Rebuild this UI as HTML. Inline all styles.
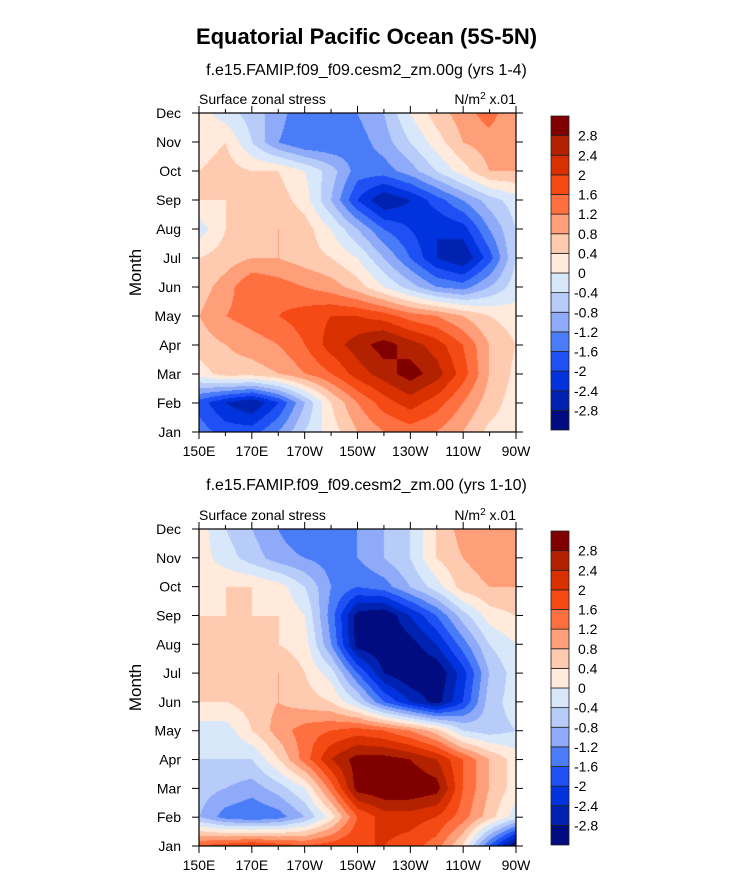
<!DOCTYPE html>
<html><head><meta charset="utf-8">
<style>
body{margin:0;background:#fff;width:733px;height:882px;position:relative;overflow:hidden;font-family:"Liberation Sans",Arial,sans-serif;color:#000}
.t{position:absolute;white-space:nowrap}
canvas{position:absolute}
svg{position:absolute;left:0;top:0}
</style></head><body>
<div class="t" style="left:0;width:733px;text-align:center;top:24px;font-size:22px;font-weight:bold">Equatorial Pacific Ocean (5S-5N)</div>
<div class="t" style="left:0;width:733px;text-align:center;top:62px;font-size:16px">f.e15.FAMIP.f09_f09.cesm2_zm.00g (yrs 1-4)</div>
<div class="t" style="left:0;width:733px;text-align:center;top:477px;font-size:16px">f.e15.FAMIP.f09_f09.cesm2_zm.00 (yrs 1-10)</div>
<canvas id="c1" width="317" height="319" style="left:199px;top:113px"></canvas>
<canvas id="c2" width="317" height="317" style="left:199px;top:529px"></canvas>
<svg id="ov" width="733" height="882"></svg>
<script>
const months=["Jan","Feb","Mar","Apr","May","Jun","Jul","Aug","Sep","Oct","Nov","Dec"];
const lonTicks=["150E","170E","170W","150W","130W","110W","90W"];
const levels=[-2.8,-2.4,-2,-1.6,-1.2,-0.8,-0.4,0,0.4,0.8,1.2,1.6,2,2.4,2.8];
const levelLabels=["-2.8","-2.4","-2","-1.6","-1.2","-0.8","-0.4","0","0.4","0.8","1.2","1.6","2","2.4","2.8"];
const colors=["#000c80","#0022b0","#0033dd","#1e50f5","#4a7cf8","#8eaaf8","#b8ccfa","#d8e8fa","#ffeadc","#ffcbb0","#ff9f7a","#ff7040","#f54a14","#d93000","#b22200","#800000"];
// rows Jan..Dec, columns 150E..90W every 10 deg
const panel1Values=[
[-1.4,-1.8,-1.8,-1.2,-0.4,0.2,0.8,1.2,1.4,1.2,0.8,0.3,0.2],
[-1.8,-2.4,-2.8,-2.0,-0.8,0.4,1.2,1.8,2.2,1.8,1.2,0.6,0.2],
[0.2,0.6,0.6,0.8,1.2,1.6,2.2,2.6,3.0,2.6,1.8,0.8,0.3],
[0.6,0.8,1.0,1.2,1.6,2.2,2.6,3.0,2.6,2.2,1.6,0.8,0.4],
[0.8,1.2,1.4,1.6,1.8,2.0,2.0,1.8,1.4,1.2,0.8,0.4,0.2],
[0.6,1.0,1.6,1.4,1.2,1.0,0.6,0.0,-0.6,-1.2,-1.4,-0.8,-0.2],
[0.4,0.6,0.8,0.8,0.6,0.4,0.0,-0.8,-1.6,-2.4,-2.8,-1.8,-0.4],
[-0.2,0.4,0.6,0.8,0.6,0.0,-0.8,-1.6,-2.0,-2.4,-2.2,-1.2,-0.4],
[0.4,0.4,0.4,0.6,0.2,-0.8,-2.0,-2.8,-2.4,-1.8,-1.2,-0.6,-0.2],
[0.4,0.6,0.4,0.4,0.0,-0.6,-1.4,-1.4,-1.0,-0.4,0.2,0.8,0.8],
[0.2,0.4,-0.4,-1.2,-1.6,-1.6,-1.4,-1.0,-0.4,0.2,0.8,1.0,0.8],
[0.2,-0.2,-0.6,-1.0,-1.6,-1.6,-1.2,-0.8,0.0,0.6,1.0,1.4,0.8]];
const panel2Values=[
[1.6,1.8,2.0,1.8,1.6,1.8,2.0,2.0,1.8,1.4,0.4,-1.6,-3.2],
[-0.8,-1.4,-1.6,-1.4,-0.8,0.2,1.6,2.2,2.2,2.0,1.4,0.6,-0.2],
[-0.6,-0.8,-1.0,-0.6,0.0,1.4,3.0,3.2,3.2,3.0,1.6,0.8,0.2],
[-0.4,-0.4,-0.4,0.4,1.4,2.4,3.0,3.0,2.8,2.4,1.6,0.8,0.2],
[-0.2,-0.2,0.4,1.0,1.4,1.6,1.8,1.6,1.2,0.6,-0.4,-0.6,-0.4],
[0.4,0.4,0.6,0.8,0.6,0.4,-0.4,-1.6,-2.4,-3.0,-2.0,-0.6,-0.2],
[0.4,0.4,0.6,0.8,0.4,-0.2,-1.6,-2.8,-3.2,-3.2,-2.2,-0.8,-0.2],
[0.4,0.4,0.4,0.4,0.2,-1.2,-3.0,-3.2,-3.0,-2.4,-1.4,-0.4,0.0],
[0.4,0.4,0.4,0.4,0.0,-1.4,-3.0,-3.2,-2.4,-1.6,-0.6,0.2,0.4],
[0.2,0.4,0.4,0.2,-0.4,-1.2,-1.6,-1.4,-0.8,-0.2,0.6,0.8,0.8],
[0.2,-0.2,-0.6,-1.0,-1.2,-1.4,-1.2,-0.8,-0.4,0.4,0.8,1.0,1.0],
[0.2,-0.4,-0.8,-1.2,-1.6,-1.6,-1.2,-0.8,-0.4,0.4,1.0,1.2,1.2]];

function colorFor(v){let i=0;while(i<levels.length&&v>=levels[i])i++;return colors[i];}
function hex(c){return [parseInt(c.slice(1,3),16),parseInt(c.slice(3,5),16),parseInt(c.slice(5,7),16)];}
function drawField(id,data){
  const cv=document.getElementById(id),ctx=cv.getContext('2d'),W=cv.width,H=cv.height;
  const img=ctx.createImageData(W,H),nr=data.length,nc=data[0].length;
  const rgb=colors.map(hex);
  for(let py=0;py<H;py++){
    const fy=(H-1-py)/(H-1)*(nr-1),r0=Math.min(Math.floor(fy),nr-2),ty=fy-r0;
    for(let px=0;px<W;px++){
      const fx=px/(W-1)*(nc-1),c0=Math.min(Math.floor(fx),nc-2),tx=fx-c0;
      const v=(data[r0][c0]*(1-tx)+data[r0][c0+1]*tx)*(1-ty)+(data[r0+1][c0]*(1-tx)+data[r0+1][c0+1]*tx)*ty;
      let i=0;while(i<levels.length&&v>=levels[i])i++;
      const k=(py*W+px)*4,c=rgb[i];img.data[k]=c[0];img.data[k+1]=c[1];img.data[k+2]=c[2];img.data[k+3]=255;
    }
  }
  ctx.putImageData(img,0,0);
}
drawField('c1',panel1Values);
drawField('c2',panel2Values);

const NS='http://www.w3.org/2000/svg',ov=document.getElementById('ov');
function mk(tag,attrs,txt){const e=document.createElementNS(NS,tag);for(const k in attrs)e.setAttribute(k,attrs[k]);if(txt!==undefined)e.textContent=txt;ov.appendChild(e);return e;}
function panel(top,bottom,cbTop,cbBot,p){
  const L=199,R=516;
  let e=mk('rect',{x:L,y:top,width:R-L,height:bottom-top,fill:'none',stroke:'#000','stroke-width':1.2});
  
  
  const dy=(bottom-top)/11;
  months.forEach((m,i)=>{
    const y=bottom-i*dy;
    mk('line',{x1:L-7,x2:L,y1:y,y2:y,stroke:'#000'});
    mk('line',{x1:R,x2:R+7,y1:y,y2:y,stroke:'#000'});
    const t=mk('text',{x:181,y:y+5,'text-anchor':'end','font-size':14},m);
    
    
  });
  const dx=(R-L)/12;
  for(let i=0;i<=12;i++){
    const x=L+i*dx,len=i%2===0?7:4;
    mk('line',{x1:x,x2:x,y1:bottom,y2:bottom+len,stroke:'#000'});
    mk('line',{x1:x,x2:x,y1:top-len,y2:top,stroke:'#000'});
  }
  lonTicks.forEach((l,i)=>{
    const t=mk('text',{x:L+i*2*dx,y:bottom+24,'text-anchor':'middle','font-size':14},l);
    
    
  });
  let t=mk('text',{x:141,y:(top+bottom)/2,'text-anchor':'middle','font-size':17,transform:'rotate(-90 141 '+(top+bottom)/2+')'},'Month');
  
  
  t=mk('text',{x:L,y:top-9,'font-size':14},'Surface zonal stress');
  
  
  t=mk('text',{x:R,y:top-9,'text-anchor':'end','font-size':14});
  t.innerHTML='N/m<tspan dy="-5" font-size="10">2</tspan><tspan dy="5"> x.01</tspan>';
  
  
  const n=colors.length,bh=(cbBot-cbTop)/n;
  colors.forEach((c,i)=>{
    const r=mk('rect',{x:551,y:cbBot-(i+1)*bh,width:18,height:bh,fill:c,stroke:'#222','stroke-width':0.8});
    
    
  });
  levelLabels.forEach((l,i)=>{
    const tt=mk('text',{x:l.startsWith('-')?574:578,y:cbBot-(i+1)*bh+5,'font-size':14},l);
    
    
  });
}
panel(113,432,116,430,'panel1');
panel(529,846,531,845,'panel2');
</script>
</body></html>
